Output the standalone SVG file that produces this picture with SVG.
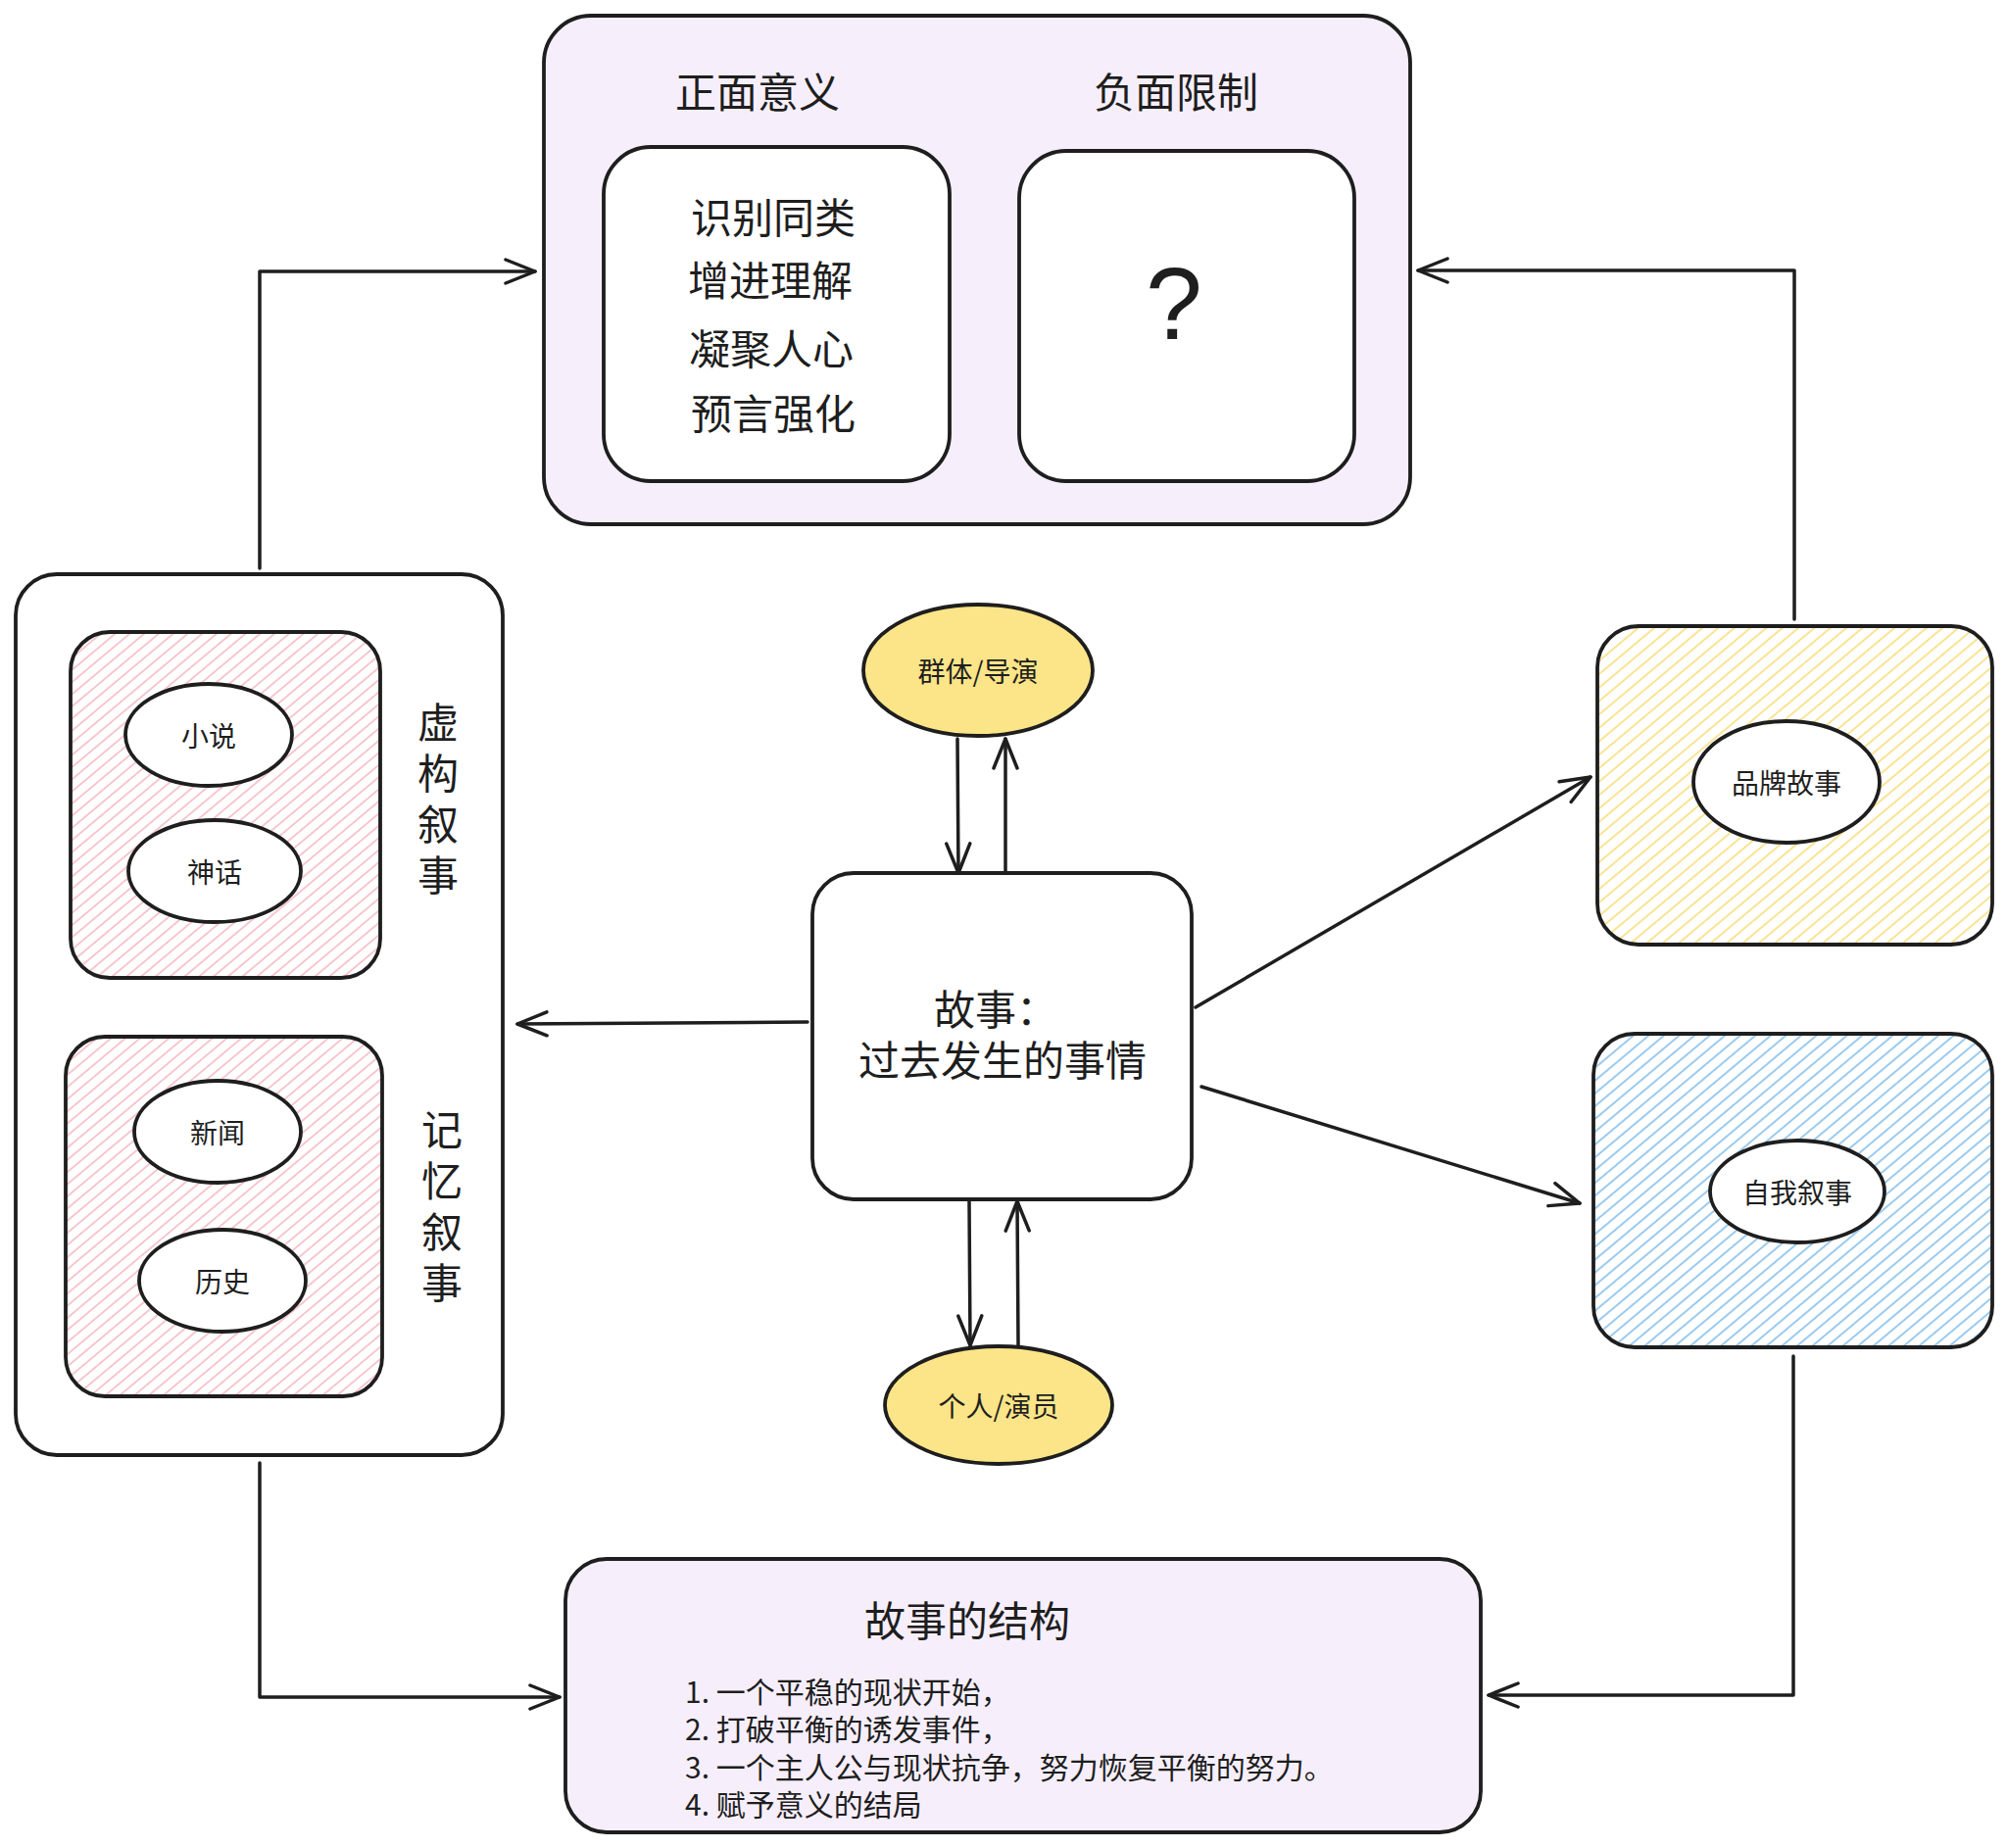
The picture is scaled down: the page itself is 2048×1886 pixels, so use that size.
<svg xmlns="http://www.w3.org/2000/svg" width="2048" height="1886" viewBox="0 0 2048 1886">
<style>
  .box{stroke:#1e1e1e;stroke-width:3.8;stroke-linejoin:round}
  .t{font-family:"Noto Sans CJK SC","Noto Sans",sans-serif;fill:#1e1e1e;text-anchor:middle;dominant-baseline:central}
  .big{font-size:42px}
  .sm{font-size:28px}
  .vt{font-family:"Noto Sans CJK SC","Noto Sans",sans-serif;fill:#1e1e1e;font-size:42px;writing-mode:vertical-rl;text-anchor:middle;letter-spacing:10px}
  .conn{fill:none;stroke:#1e1e1e;stroke-width:3.5;stroke-linecap:round;stroke-linejoin:round}
</style>
<defs>
  <pattern id="hPink" width="9.5" height="9.5" patternUnits="userSpaceOnUse" patternTransform="rotate(50)">
    <rect width="9.5" height="9.5" fill="#ffffff"/>
    <line x1="1" y1="0" x2="1" y2="9.5" stroke="#f6b6bf" stroke-width="1.5"/>
  </pattern>
  <pattern id="hYellow" width="10.5" height="10.5" patternUnits="userSpaceOnUse" patternTransform="rotate(50)">
    <rect width="10.5" height="10.5" fill="#ffffff"/>
    <line x1="1" y1="0" x2="1" y2="10.5" stroke="#fbdf80" stroke-width="1.7"/>
  </pattern>
  <pattern id="hBlue" width="10" height="10" patternUnits="userSpaceOnUse" patternTransform="rotate(50)">
    <rect width="10" height="10" fill="#ffffff"/>
    <line x1="1" y1="0" x2="1" y2="10" stroke="#96c9f0" stroke-width="1.9"/>
  </pattern>
  <marker id="arr" viewBox="0 0 34 28" refX="32" refY="14" markerWidth="34" markerHeight="28" markerUnits="userSpaceOnUse" orient="auto">
    <path d="M2,2 L32,14 L2,26" fill="none" stroke="#1e1e1e" stroke-width="3.5" stroke-linecap="round" stroke-linejoin="round"/>
  </marker>
</defs>
<rect width="2048" height="1886" fill="#ffffff"/>

<g id="connectors">
  <path class="conn" d="M265,580 L265,277 L546,277" marker-end="url(#arr)"/>
  <path class="conn" d="M1831,632 L1831,276 L1447,276" marker-end="url(#arr)"/>
  <path class="conn" d="M265,1493 L265,1732 L571,1732" marker-end="url(#arr)"/>
  <path class="conn" d="M1830,1384 L1830,1730 L1519,1730" marker-end="url(#arr)"/>
  <path class="conn" d="M824,1043 L528,1045" marker-end="url(#arr)"/>
  <path class="conn" d="M1220,1028 L1623,793" marker-end="url(#arr)"/>
  <path class="conn" d="M1226,1109 L1612,1228" marker-end="url(#arr)"/>
  <path class="conn" d="M977,754 L978,891" marker-end="url(#arr)"/>
  <path class="conn" d="M1026,893 L1026,754" marker-end="url(#arr)"/>
  <path class="conn" d="M989,1226 L990,1373" marker-end="url(#arr)"/>
  <path class="conn" d="M1039,1373 L1038,1226" marker-end="url(#arr)"/>
</g>

<g id="meaning">
  <rect class="box" x="555" y="16" width="884" height="519" rx="48" fill="#f6effb"/>
  <text class="t big" x="773" y="91">正面意义</text>
  <text class="t big" x="1200" y="91">负面限制</text>
</g>
<g id="positive">
  <rect class="box" x="616" y="150" width="353" height="341" rx="48" fill="#ffffff"/>
  <text class="t big" x="789" y="219">识别同类</text>
  <text class="t big" x="786" y="283">增进理解</text>
  <text class="t big" x="787" y="353">凝聚人心</text>
  <text class="t big" x="789" y="419">预言强化</text>
</g>
<g id="negative">
  <rect class="box" x="1040" y="154" width="342" height="337" rx="48" fill="#ffffff"/>
  <text x="1198" y="310" font-family="Liberation Sans, Arial, sans-serif" font-size="104" fill="#1e1e1e" text-anchor="middle" dominant-baseline="central">?</text>
</g>

<g id="narratives">
  <rect class="box" x="16" y="586" width="497" height="899" rx="42" fill="#ffffff"/>
</g>
<g id="fiction">
  <rect class="box" x="72" y="645" width="316" height="353" rx="40" fill="url(#hPink)"/>
  <text class="vt" x="447" y="820">虚构叙事</text>
</g>
<g id="novel">
  <ellipse class="box" cx="213" cy="750" rx="85" ry="52" fill="#ffffff"/>
  <text class="t sm" x="213" y="750">小说</text>
</g>
<g id="myth">
  <ellipse class="box" cx="219" cy="889" rx="88" ry="52" fill="#ffffff"/>
  <text class="t sm" x="219" y="889">神话</text>
</g>
<g id="memory">
  <rect class="box" x="67" y="1058" width="323" height="367" rx="40" fill="url(#hPink)"/>
  <text class="vt" x="451" y="1236">记忆叙事</text>
</g>
<g id="news">
  <ellipse class="box" cx="222" cy="1155" rx="85" ry="52" fill="#ffffff"/>
  <text class="t sm" x="222" y="1155">新闻</text>
</g>
<g id="history">
  <ellipse class="box" cx="227" cy="1307" rx="85" ry="52" fill="#ffffff"/>
  <text class="t sm" x="227" y="1307">历史</text>
</g>

<g id="story">
  <rect class="box" x="829" y="891" width="387" height="333" rx="42" fill="#ffffff"/>
  <text class="t big"><tspan x="1016" y="1027">故事：</tspan><tspan x="1023" y="1079">过去发生的事情</tspan></text>
</g>
<g id="group">
  <ellipse class="box" cx="998" cy="684" rx="117" ry="67" fill="#fce588"/>
  <text class="t sm" x="998" y="684">群体/导演</text>
</g>
<g id="individual">
  <ellipse class="box" cx="1019" cy="1434" rx="116" ry="60" fill="#fce588"/>
  <text class="t sm" x="1019" y="1434">个人/演员</text>
</g>

<g id="brand">
  <rect class="box" x="1630" y="639" width="403" height="325" rx="42" fill="url(#hYellow)"/>
  <ellipse class="box" cx="1823" cy="798" rx="95" ry="62" fill="#ffffff"/>
  <text class="t sm" x="1823" y="798">品牌故事</text>
</g>
<g id="self">
  <rect class="box" x="1626" y="1055" width="407" height="320" rx="42" fill="url(#hBlue)"/>
  <ellipse class="box" cx="1834" cy="1216" rx="89" ry="52" fill="#ffffff"/>
  <text class="t sm" x="1834" y="1216">自我叙事</text>
</g>

<g id="structure">
  <rect class="box" x="577" y="1591" width="934" height="279" rx="42" fill="#f6effb"/>
  <text class="t big" x="987" y="1651">故事的结构</text>
  <text font-family="Noto Sans CJK SC, Noto Sans, sans-serif" font-size="30" fill="#1e1e1e" dominant-baseline="central"><tspan x="699" y="1725">1. 一个平稳的现状开始，</tspan><tspan x="699" y="1763">2. 打破平衡的诱发事件，</tspan><tspan x="699" y="1802">3. 一个主人公与现状抗争，努力恢复平衡的努力。</tspan><tspan x="699" y="1840">4. 赋予意义的结局</tspan></text>
</g>
</svg>
